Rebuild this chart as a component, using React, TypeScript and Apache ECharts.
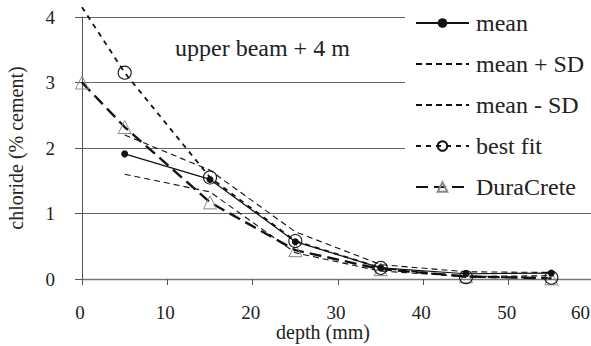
import React, { useEffect, useRef } from "react";
import * as echarts from "echarts";

const depths = [5, 15, 25, 35, 45, 55];
const meanValues = [1.91, 1.52, 0.57, 0.17, 0.08, 0.09];
const meanPlusSD = [2.2, 1.66, 0.72, 0.22, 0.11, 0.1];
const meanMinusSD = [1.6, 1.33, 0.4, 0.12, 0.04, 0.05];
const fitDepths = [0, 5, 15, 25, 35, 45, 55];
const bestFitValues = [4.15, 3.15, 1.55, 0.58, 0.17, 0.03, 0.02];
const duraDepths = [0, 5, 15, 25, 35, 45, 55];
const duraCreteValues = [3.0, 2.32, 1.17, 0.44, 0.15, 0.04, 0.01];
const xTicks = [0, 10, 20, 30, 40, 50, 60];
const yTicks = [0, 1, 2, 3, 4];
const seriesNames = ["mean", "mean + SD", "mean - SD", "best fit", "DuraCrete"];
const annotation = "upper beam + 4 m";

const FONT = "Liberation Serif";

export default function App() {
  const ref = useRef<HTMLDivElement>(null);
  useEffect(() => {
    document.body.style.margin = "0";
    const chart = echarts.init(ref.current!, null, { renderer: "svg" });
    const pair = (xs: number[], ys: number[]) => xs.map((x, i) => [x, ys[i]]);
    const noSymbol = { color: "transparent", borderColor: "transparent", borderWidth: 0 };
    const option: any = {
      animation: false,
      backgroundColor: "#fff",
      textStyle: { fontFamily: FONT, color: "#222" },
      grid: { left: 82, top: 17, width: 512, height: 262, containLabel: false, outerBoundsMode: "none" },
      xAxis: {
        type: "value",
        min: xTicks[0],
        max: xTicks[xTicks.length - 1],
        interval: 10,
        name: "depth (mm)",
        nameLocation: "middle",
        nameGap: 43,
        nameMoveOverlap: false,
        nameTextStyle: { fontFamily: FONT, fontSize: 20, color: "#222", padding: [0, 30, 0, 0] },
        axisLine: { lineStyle: { color: "#777", width: 1.3 } },
        axisTick: { show: true, length: 6, lineStyle: { color: "#555" } },
        axisLabel: {
          fontFamily: FONT,
          fontSize: 19,
          color: "#222",
          margin: 24,
          alignMaxLabel: "right",
          padding: [0, 4, 0, 0],
        },
        splitLine: { show: false },
      },
      yAxis: {
        type: "value",
        min: yTicks[0],
        max: yTicks[yTicks.length - 1],
        interval: 1,
        name: "chloride (% cement)",
        nameLocation: "middle",
        nameGap: 56,
        nameMoveOverlap: false,
        nameTextStyle: { fontFamily: FONT, fontSize: 20, color: "#222" },
        axisLine: { show: true, lineStyle: { color: "#555", width: 1 } },
        axisTick: { show: true, length: 7, lineStyle: { color: "#555" } },
        axisLabel: { fontFamily: FONT, fontSize: 19, color: "#222", margin: 27 },
        splitLine: { show: true, lineStyle: { color: "#666", width: 1 } },
      },
      legend: {
        orient: "vertical",
        left: 405,
        top: 0,
        padding: [11, 10, 10, 10],
        backgroundColor: "#fff",
        itemWidth: 53,
        itemHeight: 12,
        itemGap: 17,
        selectedMode: false,
        data: [
          { name: seriesNames[0] },
          { name: seriesNames[1], itemStyle: noSymbol },
          { name: seriesNames[2], itemStyle: noSymbol },
          { name: seriesNames[3] },
          { name: seriesNames[4] },
        ],
        textStyle: { fontFamily: FONT, fontSize: 24, color: "#222", padding: [0, 0, 0, 2] },
      },
      graphic: [
        {
          type: "text",
          left: 175,
          top: 36,
          z: 10,
          style: { text: annotation, fontFamily: FONT, fontSize: 24, fill: "#222" },
        },
      ],
      series: [
        {
          name: seriesNames[0],
          type: "line",
          data: pair(depths, meanValues),
          symbol: "circle",
          symbolSize: 7,
          itemStyle: { color: "#111" },
          lineStyle: { color: "#111", width: 1.2, type: "solid" },
          clip: false,
          z: 5,
        },
        {
          name: seriesNames[1],
          type: "line",
          data: pair(depths, meanPlusSD),
          symbol: "none",
          itemStyle: { color: "#111" },
          lineStyle: { color: "#111", width: 1.1, type: [6, 4] },
          clip: false,
        },
        {
          name: seriesNames[2],
          type: "line",
          data: pair(depths, meanMinusSD),
          symbol: "none",
          itemStyle: { color: "#111" },
          lineStyle: { color: "#111", width: 1.1, type: [6, 4] },
          clip: false,
        },
        {
          name: seriesNames[3],
          type: "line",
          data: fitDepths.map((x, i) =>
            i === 0 ? { value: [x, bestFitValues[i]], symbol: "none" } : [x, bestFitValues[i]]
          ),
          symbol: "circle",
          symbolSize: 13,
          itemStyle: { color: "transparent", borderColor: "#111", borderWidth: 1.1 },
          lineStyle: { color: "#111", width: 1.8, type: [5, 5] },
          clip: false,
          z: 4,
        },
        {
          name: seriesNames[4],
          type: "line",
          data: pair(duraDepths, duraCreteValues),
          symbol: "triangle",
          symbolSize: 13,
          itemStyle: { color: "transparent", borderColor: "#888", borderWidth: 1 },
          lineStyle: { color: "#111", width: 2.4, type: [12, 6] },
          clip: false,
          z: 3,
        },
      ],
    };
    chart.setOption(option);
    return () => chart.dispose();
  }, []);
  return (
    <div
      ref={ref}
      style={{ position: "absolute", left: 0, top: 0, width: 591, height: 346 }}
    />
  );
}
